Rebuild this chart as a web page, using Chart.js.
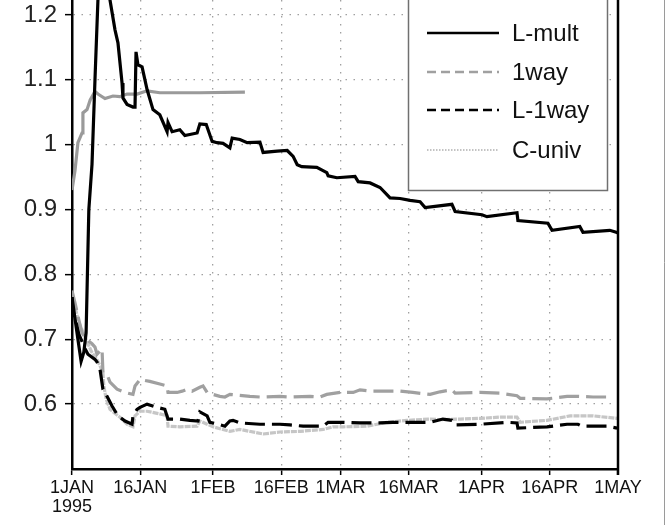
<!DOCTYPE html>
<html><head><meta charset="utf-8">
<script src="https://cdn.jsdelivr.net/npm/chart.js@4/dist/chart.umd.min.js"></script>
<style>
html,body{margin:0;padding:0;background:#fff;overflow:hidden}
#wrap{position:absolute;left:0;top:0;width:668px;height:525px}
</style>
</head><body>
<div id="wrap"><canvas id="c" width="668" height="525"></canvas></div>
<script>
// x = days since 1 JAN 1995
const tickDays = [0, 15, 31, 46, 59, 74, 90, 105, 120];
const tickLabels = [['1JAN', '1995'], '16JAN', '1FEB', '16FEB', '1MAR', '16MAR', '1APR', '16APR', '1MAY'];
const yTicks = [0.6, 0.7, 0.8, 0.9, 1.0, 1.1, 1.2];
const seriesNames = ['L-mult', '1way', 'L-1way', 'C-univ'];

const lMult = [[0,0.765],[0.7,0.73],[1.3,0.70],[2.0,0.666],[2.6,0.68],[3.1,0.71],[3.7,0.90],[4.4,0.97],[5.05,1.10],[5.7,1.223],[6.5,1.27],[7.3,1.28],[8.0,1.24],[8.35,1.223],[9.45,1.177],[10.1,1.157],[11.0,1.095],[11.2,1.072],[12.1,1.062],[13.4,1.058],[13.85,1.058],[14.07,1.143],[14.5,1.123],[15.4,1.12],[16.5,1.085],[17.8,1.054],[19.3,1.046],[20.9,1.02],[21.1,1.034],[22,1.02],[23.7,1.023],[24.8,1.014],[27.5,1.018],[28.1,1.032],[29.5,1.031],[30.8,1.005],[31.9,1.003],[33.2,1.002],[34.7,0.995],[35.2,1.01],[36.9,1.008],[38.5,1.003],[41.3,1.004],[42.0,0.988],[45.1,0.99],[47.3,0.991],[48.6,0.982],[49.5,0.969],[50.5,0.966],[53.8,0.965],[56.0,0.957],[56.3,0.952],[58.2,0.949],[62.2,0.951],[62.9,0.943],[65.5,0.941],[67.7,0.934],[69.9,0.918],[72.1,0.917],[74.3,0.914],[76.5,0.912],[77.6,0.903],[83.5,0.908],[84.2,0.897],[90.1,0.892],[91.2,0.889],[97.8,0.895],[98.0,0.883],[104.6,0.879],[105.5,0.868],[111.6,0.874],[112.3,0.865],[118.2,0.868],[119.6,0.865],[120,0.864]];

const oneWay = [[0,0.775],[0.7,0.755],[1.5,0.73],[2.2,0.71],[3.1,0.70],[4.4,0.693],[5.05,0.688],[5.5,0.677],[6.15,0.682],[6.6,0.685],[6.8,0.649],[7.9,0.642],[8.35,0.634],[9.9,0.623],[11.65,0.618],[13.4,0.615],[13.85,0.628],[14.95,0.638],[17.1,0.635],[19.3,0.631],[20.9,0.628],[21.1,0.618],[23.1,0.618],[24.2,0.62],[25.3,0.623],[26.4,0.62],[28.1,0.626],[28.8,0.628],[29.7,0.618],[31.0,0.615],[32.5,0.612],[33.6,0.611],[34.7,0.615],[39.1,0.612],[41.3,0.611],[45.7,0.612],[47.9,0.611],[52.3,0.612],[54.5,0.611],[56.0,0.615],[58.9,0.618],[61.8,0.618],[63.3,0.622],[65.5,0.62],[72.1,0.62],[74.9,0.618],[78.7,0.615],[80.9,0.619],[83.5,0.622],[84.2,0.617],[89.7,0.618],[94.1,0.617],[97.8,0.613],[98.5,0.609],[104.4,0.608],[108.8,0.612],[111.0,0.612],[114.5,0.611],[118.9,0.611]];

const l1Way = [[0,0.765],[0.3,0.73],[0.9,0.726],[1.5,0.708],[2.9,0.685],[3.5,0.677],[5.05,0.669],[5.5,0.665],[6.15,0.654],[6.8,0.623],[7.7,0.612],[8.8,0.597],[10.1,0.582],[11.65,0.574],[13.2,0.569],[13.4,0.582],[14.3,0.592],[14.95,0.595],[16.5,0.60],[18.7,0.595],[20.4,0.592],[21.1,0.577],[23.7,0.577],[25.9,0.575],[27.7,0.574],[28.1,0.588],[29.7,0.582],[30.3,0.572],[32.1,0.569],[33.6,0.566],[34.7,0.574],[35.4,0.575],[36.9,0.571],[41.3,0.569],[45.7,0.569],[47.9,0.568],[50.8,0.566],[55.2,0.566],[56.3,0.572],[59.6,0.572],[63.3,0.571],[67.7,0.571],[70.5,0.572],[74.9,0.572],[78.7,0.572],[81.5,0.577],[83.5,0.575],[84.2,0.568],[89.7,0.569],[95.6,0.572],[97.8,0.571],[98.0,0.563],[104.4,0.565],[108.8,0.569],[111.2,0.569],[112.1,0.566],[117.6,0.566],[119.8,0.563]];

const cUniv = [[0,0.769],[1.5,0.726],[3.1,0.70],[4.2,0.682],[5.7,0.666],[6.8,0.649],[7.0,0.628],[7.5,0.608],[8.35,0.592],[10.5,0.58],[12.1,0.569],[13.4,0.565],[13.85,0.582],[14.95,0.589],[16.5,0.589],[19.3,0.585],[20.9,0.582],[21.1,0.566],[23.7,0.565],[27.5,0.566],[28.1,0.574],[29.7,0.569],[31.0,0.565],[34.7,0.558],[36.9,0.561],[42.0,0.554],[45.7,0.557],[50.1,0.558],[55.2,0.561],[57.4,0.565],[59.6,0.565],[64.8,0.566],[69.2,0.572],[73.6,0.575],[78.7,0.577],[80.9,0.576],[85.3,0.577],[89.7,0.578],[94.1,0.58],[97.8,0.58],[98.5,0.572],[104.4,0.575],[109.5,0.582],[114.5,0.582],[119.8,0.578]];

// grey solid curve (its legend entry is outside the visible crop)
const cMult = [[0,0.93],[0.66,0.96],[1.3,1.003],[2.2,1.018],[2.4,1.049],[3.3,1.054],[4.0,1.069],[5.05,1.082],[5.7,1.078],[7.25,1.071],[9.0,1.075],[10.5,1.074],[12.1,1.078],[14.3,1.078],[16.5,1.083],[19.3,1.080],[28.1,1.080],[38.0,1.081]];

const toXY = a => a.map(p => ({x: p[0], y: p[1]}));

const datasets = [
  {label: seriesNames[0], data: toXY(lMult), borderColor: '#000', borderWidth: 3.2, legend: {color:'#000', dash:[], width:2.5}},
  {label: 'C-mult', data: toXY(cMult), borderColor: '#9a9a9a', borderWidth: 3.2},
  {label: seriesNames[2], data: toXY(l1Way), borderColor: '#000', borderWidth: 3.2, borderDash: [20, 7], legend: {color:'#000', dash:[9,5], width:2.5}},
  {label: seriesNames[1], data: toXY(oneWay), borderColor: '#a0a0a0', borderWidth: 3.2, borderDash: [20, 7], legend: {color:'#a0a0a0', dash:[9,5], width:2.5}},
  {label: seriesNames[3], data: toXY(cUniv), borderColor: '#c6c6c6', borderWidth: 3.2, borderDash: [6, 1], legend: {color:'#b0b0b0', dash:[1.5,1.5], width:1.6}}
];
datasets.forEach(d => { d.pointRadius = 0; d.tension = 0; d.fill = false; });

const legendOrder = seriesNames;

const extras = {
  id: 'extras',
  afterDraw(chart) {
    const {ctx, chartArea: a} = chart;
    ctx.save();
    // right frame of plot
    ctx.strokeStyle = '#000'; ctx.lineWidth = 2.5; ctx.setLineDash([]);
    ctx.beginPath(); ctx.moveTo(a.right, a.top); ctx.lineTo(a.right, a.bottom + 6); ctx.stroke();
    // outer figure frame edge
    ctx.strokeStyle = '#9a9a9a'; ctx.lineWidth = 1;
    ctx.beginPath(); ctx.moveTo(664.5, 0); ctx.lineTo(664.5, 525); ctx.stroke();
    // legend box
    const bx = 408.5, bw = 199, by = -10, bb = 190.5;
    ctx.fillStyle = '#fff'; ctx.fillRect(bx, by, bw, bb - by);
    ctx.strokeStyle = '#707070'; ctx.lineWidth = 1.5; ctx.strokeRect(bx, by, bw, bb - by);
    const rows = [33, 72, 110, 150];
    legendOrder.forEach((name, i) => {
      const ds = chart.data.datasets.find(d => d.label === name);
      const st = ds.legend;
      const y = rows[i];
      ctx.strokeStyle = st.color; ctx.lineWidth = st.width; ctx.setLineDash(st.dash);
      ctx.beginPath(); ctx.moveTo(427, y); ctx.lineTo(499, y); ctx.stroke();
      ctx.setLineDash([]);
      ctx.fillStyle = '#111';
      ctx.font = '24px "Liberation Sans", Arial, sans-serif';
      ctx.textBaseline = 'middle'; ctx.textAlign = 'left';
      ctx.fillText(name, 512, y + 1);
    });
    ctx.restore();
  }
};

new Chart(document.getElementById('c'), {
  type: 'line',
  data: {datasets},
  options: {
    responsive: false,
    animation: false,
    devicePixelRatio: 1,
    layout: {padding: {left: 0, right: 50, top: 0, bottom: 0}},
    plugins: {legend: {display: false}, tooltip: {enabled: false}},
    scales: {
      x: {
        type: 'linear', min: 0, max: 120,
        afterFit: s => { s.height = 56; s.paddingLeft = 0; s.paddingRight = 0; },
        afterBuildTicks: s => { s.ticks = tickDays.map(v => ({value: v})); },
        ticks: {
          autoSkip: false, maxRotation: 0, minRotation: 0, padding: 3, color: '#111',
          font: {family: '"Liberation Sans Narrow", "Liberation Sans", Arial, sans-serif', size: 18, lineHeight: 1.06},
          callback: (v) => { const i = tickDays.indexOf(v); return i >= 0 ? tickLabels[i] : ''; }
        },
        grid: {color: '#a0a0a0', lineWidth: 1.3, tickLength: 6, tickColor: '#000', tickWidth: 1.5, tickBorderDash: []},
        border: {display: true, color: '#000', width: 2.5, dash: [1.5, 6.5]}
      },
      y: {
        type: 'linear', min: 0.5, max: 1.223,
        afterFit: s => { s.width = 72; s.paddingTop = 0; s.paddingBottom = 0; },
        afterBuildTicks: s => { s.ticks = yTicks.map(v => ({value: v})); },
        ticks: {
          padding: 8, color: '#222',
          font: {family: '"Liberation Sans", Arial, sans-serif', size: 24},
          callback: (v) => (Math.abs(v - 1) < 1e-9 ? '1' : (Math.round(v * 10) / 10).toString())
        },
        grid: {color: '#a0a0a0', lineWidth: 1.3, tickLength: 7, tickColor: '#000', tickWidth: 1.5, tickBorderDash: []},
        border: {display: true, color: '#000', width: 2.5, dash: [1.5, 6.5]}
      }
    }
  },
  plugins: [extras]
});
</script>
</body></html>
